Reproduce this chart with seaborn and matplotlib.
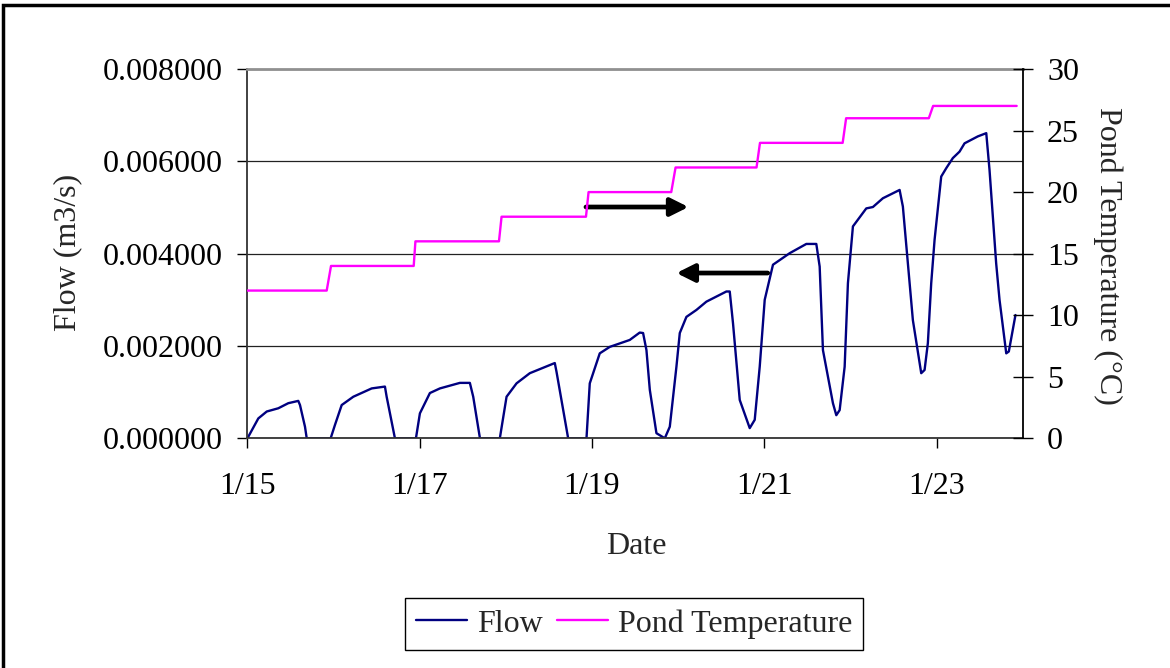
import numpy as np
import pandas as pd
import matplotlib
matplotlib.use('Agg')
import matplotlib.pyplot as plt
import seaborn as sns
from matplotlib.patches import Rectangle
from matplotlib.ticker import FormatStrFormatter

# ---------------- data (days after 1/15) ----------------
flow_day = [0.000, 0.126, 0.224, 0.358, 0.474, 0.590, 0.610, 0.668, 0.688, 0.966,
            1.016, 1.094, 1.229, 1.442, 1.596, 1.616, 1.712, 1.956,
            2.002, 2.118, 2.234, 2.466, 2.582, 2.621, 2.699, 2.930,
            3.008, 3.124, 3.278, 3.568, 3.588, 3.723, 3.936,
            3.974, 4.090, 4.206, 4.438, 4.554, 4.593, 4.632, 4.671, 4.748, 4.845, 4.903, 4.980, 5.019,
            5.096, 5.212, 5.328, 5.560, 5.599, 5.637, 5.715, 5.831, 5.889, 5.947, 6.005, 6.101,
            6.295, 6.488, 6.604, 6.643, 6.681, 6.797, 6.836, 6.875, 6.933, 6.971, 7.029,
            7.184, 7.261, 7.377, 7.571, 7.609, 7.725, 7.822, 7.861, 7.899, 7.938, 7.977, 8.054,
            8.112, 8.189, 8.267, 8.325, 8.479, 8.577, 8.615, 8.692, 8.731, 8.809, 8.839, 8.916]
flow_val = [0.00000, 0.00043, 0.00058, 0.00065, 0.00076, 0.00081, 0.00072, 0.00025, 0.00000, 0.00000,
            0.00029, 0.00072, 0.00090, 0.00108, 0.00112, 0.00090, 0.00000, 0.00000,
            0.00054, 0.00098, 0.00108, 0.00120, 0.00120, 0.00090, 0.00000, 0.00000,
            0.00090, 0.00119, 0.00141, 0.00163, 0.00144, 0.00000, 0.00000,
            0.00119, 0.00184, 0.00198, 0.00213, 0.00229, 0.00228, 0.00191, 0.00105, 0.00011, 0.00000, 0.00025, 0.00155, 0.00228,
            0.00263, 0.00278, 0.00296, 0.00318, 0.00318, 0.00249, 0.00083, 0.00022, 0.00040, 0.00155, 0.00300, 0.00376,
            0.00401, 0.00421, 0.00421, 0.00372, 0.00191, 0.00076, 0.00050, 0.00061, 0.00155, 0.00336, 0.00459,
            0.00498, 0.00501, 0.00520, 0.00538, 0.00502, 0.00256, 0.00141, 0.00148, 0.00206, 0.00336, 0.00430, 0.00567,
            0.00585, 0.00607, 0.00621, 0.00639, 0.00654, 0.00661, 0.00581, 0.00379, 0.00300, 0.00184, 0.00188, 0.00267]

temp_day = [0.00, 0.92, 0.97, 1.93, 1.95, 2.92, 2.95, 3.93, 3.96, 4.92, 4.97,
            5.91, 5.95, 6.91, 6.95, 7.91, 7.96, 8.93]
temp_val = [12, 12, 14, 14, 16, 16, 18, 18, 20, 20, 22, 22, 24, 24, 26, 26, 27, 27]

x_ticks = [0, 2, 4, 6, 8]
x_tick_labels = ['1/15', '1/17', '1/19', '1/21', '1/23']
flow_ticks = [0.000, 0.002, 0.004, 0.006, 0.008]
temp_ticks = [0, 5, 10, 15, 20, 25, 30]

# annotation arrows (tail -> tip), in flow-axis data units
arrow_to_temp = ((3.93, 0.00501), (5.12, 0.00501))
arrow_to_flow = ((6.04, 0.00358), (4.98, 0.00358))

# ---------------- style ----------------
sns.set_style('ticks')
plt.rcParams['font.family'] = ['Liberation Serif', 'DejaVu Serif']
FS = 23
plt.rcParams['font.size'] = FS

fig = plt.figure(figsize=(11.7, 6.68), dpi=100)
ax = fig.add_axes([0.2115, 0.3439, 0.6626, 0.5528])
ax2 = ax.twinx()

flow_df = pd.DataFrame({'day': flow_day, 'flow': flow_val})
temp_df = pd.DataFrame({'day': temp_day, 'temp': temp_val})

sns.lineplot(data=flow_df, x='day', y='flow', ax=ax, color='#000080', lw=1.7,
             estimator=None, sort=False, label='Flow')
sns.lineplot(data=temp_df, x='day', y='temp', ax=ax2, color='#FF00FF', lw=1.7,
             estimator=None, sort=False, label='Pond Temperature')

ax.set_xlim(0, 9)
ax.set_ylim(0, 0.008)
ax2.set_ylim(0, 30)

ax.set_xticks(x_ticks)
ax.set_xticklabels(x_tick_labels)
ax.set_yticks(flow_ticks)
ax.yaxis.set_major_formatter(FormatStrFormatter('%.6f'))
ax2.set_yticks(temp_ticks)

ax.grid(axis='y', color='#222222', lw=0.9)
ax.grid(axis='x', visible=False)
ax.set_axisbelow(True)

ax.tick_params(axis='y', left=True, direction='out', length=7, width=1, pad=11,
               labelsize=FS, colors='black')
ax.tick_params(axis='x', bottom=True, direction='out', length=7, width=1, pad=17,
               labelsize=FS, colors='black')
ax2.tick_params(axis='y', right=True, direction='inout', length=15, width=1, pad=10,
                labelsize=FS, colors='black')

for s in ['left', 'bottom']:
    ax.spines[s].set_color('#333333')
    ax.spines[s].set_linewidth(1.3)
ax.spines['top'].set_color('#909090')
ax.spines['top'].set_linewidth(2)
ax.spines['right'].set_visible(False)
for s in ['left', 'top', 'bottom']:
    ax2.spines[s].set_visible(False)
ax2.spines['right'].set_color('black')
ax2.spines['right'].set_linewidth(1.3)

ax.set_xlabel('Date', fontsize=FS)
ax.xaxis.set_label_coords(0.501, -0.292)
ax.xaxis.label.set_va('center')
ax.set_ylabel('Flow (m3/s)', fontsize=FS)
ax.yaxis.set_label_coords(-0.232, 0.502)
ax.yaxis.label.set_va('center')
ax2.set_ylabel('Pond Temperature (°C)', fontsize=FS, rotation=270)
ax2.yaxis.set_label_coords(1.110, 0.494)
ax2.yaxis.label.set_va('center')

for tail, tip in (arrow_to_temp, arrow_to_flow):
    ax.annotate('', xy=tip, xytext=tail,
                arrowprops=dict(arrowstyle='-|>', lw=3.4, color='black',
                                mutation_scale=27, shrinkA=0, shrinkB=0))

# combined legend
h1, l1 = ax.get_legend_handles_labels()
h2, l2 = ax2.get_legend_handles_labels()
ax.get_legend().remove()
ax2.get_legend().remove()
leg = fig.legend(h1 + h2, l1 + l2, loc='center', bbox_to_anchor=(0.542, 0.066),
                 ncol=2, frameon=True, fancybox=False, framealpha=1,
                 edgecolor='black', handlelength=1.6, handletextpad=0.3,
                 columnspacing=0.45, borderpad=0.35, borderaxespad=0.0,
                 fontsize=FS)
leg.get_frame().set_linewidth(1.0)

# outer chart border
fig.add_artist(Rectangle((3 / 1170, -0.05), 1.2, 1 - 5 / 668 + 0.05,
                         transform=fig.transFigure, fill=False, lw=2.5,
                         ec='black'))

fig.savefig('out.png', dpi=100)
